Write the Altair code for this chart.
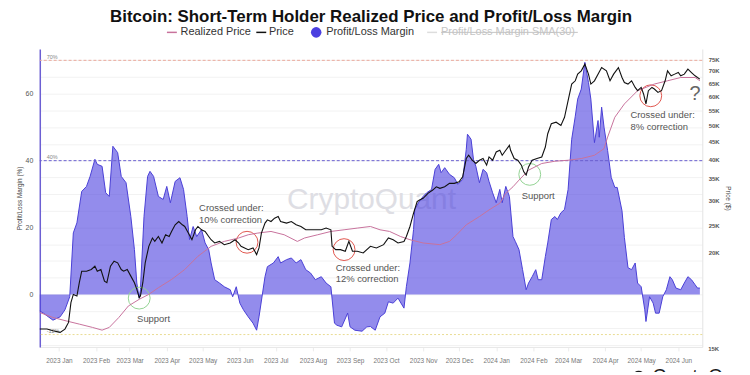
import altair as alt
import pandas as pd

FONT = "Liberation Sans"

# ---------------- data ----------------
margin_dates = [
    "2022-12-16", "2022-12-19", "2022-12-27", "2023-01-02", "2023-01-06", "2023-01-10", "2023-01-13",
    "2023-01-16", "2023-01-20", "2023-01-24", "2023-01-27", "2023-01-31", "2023-02-02", "2023-02-06",
    "2023-02-09", "2023-02-12", "2023-02-15", "2023-02-19", "2023-02-22", "2023-02-26", "2023-03-02",
    "2023-03-05", "2023-03-07", "2023-03-09", "2023-03-10", "2023-03-13", "2023-03-16", "2023-03-18",
    "2023-03-21", "2023-03-25", "2023-03-29", "2023-04-01", "2023-04-04", "2023-04-08", "2023-04-12",
    "2023-04-15", "2023-04-18", "2023-04-20", "2023-04-23", "2023-04-26", "2023-04-30", "2023-05-03",
    "2023-05-06", "2023-05-08", "2023-05-11", "2023-05-15", "2023-05-19", "2023-05-24", "2023-05-26",
    "2023-05-29", "2023-06-01", "2023-06-04", "2023-06-08", "2023-06-12", "2023-06-15", "2023-06-17",
    "2023-06-22", "2023-06-24", "2023-06-29", "2023-07-03", "2023-07-05", "2023-07-10", "2023-07-14",
    "2023-07-18", "2023-07-22", "2023-07-26", "2023-07-30", "2023-08-03", "2023-08-08", "2023-08-12",
    "2023-08-16", "2023-08-19", "2023-08-21", "2023-08-25", "2023-08-30", "2023-09-01", "2023-09-05",
    "2023-09-11", "2023-09-15", "2023-09-18", "2023-09-22", "2023-09-26", "2023-09-30", "2023-10-03",
    "2023-10-07", "2023-10-11", "2023-10-16", "2023-10-18", "2023-10-21", "2023-10-24", "2023-10-25",
    "2023-10-28", "2023-11-01", "2023-11-04", "2023-11-08", "2023-11-11", "2023-11-14", "2023-11-16",
    "2023-11-19", "2023-11-23", "2023-11-27", "2023-11-30", "2023-12-04", "2023-12-07", "2023-12-08",
    "2023-12-11", "2023-12-13", "2023-12-15", "2023-12-18", "2023-12-21", "2023-12-24", "2023-12-26",
    "2023-12-29", "2024-01-01", "2024-01-04", "2024-01-06", "2024-01-09", "2024-01-12", "2024-01-15",
    "2024-01-17", "2024-01-20", "2024-01-23", "2024-01-26", "2024-01-28", "2024-01-31", "2024-02-03",
    "2024-02-05", "2024-02-08", "2024-02-11", "2024-02-13", "2024-02-16", "2024-02-19", "2024-02-21",
    "2024-02-24", "2024-02-27", "2024-03-01", "2024-03-04", "2024-03-07", "2024-03-09", "2024-03-12",
    "2024-03-15", "2024-03-18", "2024-03-20", "2024-03-23", "2024-03-26", "2024-03-27", "2024-03-29",
    "2024-03-31", "2024-04-03", "2024-04-06", "2024-04-09", "2024-04-11", "2024-04-15", "2024-04-17",
    "2024-04-20", "2024-04-23", "2024-04-26", "2024-04-28", "2024-05-01", "2024-05-04", "2024-05-05",
    "2024-05-08", "2024-05-11", "2024-05-13", "2024-05-16", "2024-05-19", "2024-05-22", "2024-05-25",
    "2024-05-27", "2024-05-30", "2024-06-03", "2024-06-06", "2024-06-09", "2024-06-12", "2024-06-15",
    "2024-06-17", "2024-06-19",
]
margin_values = [
    -5.0, -5.6, -7.7, -6.7, -4.6, -0.7, 18.4,
    21.4, 30.8, 32.3, 35.3, 40.4, 38.9, 38.3,
    30.4, 29.3, 44.3, 42.4, 35.3, 33.4, 23.3,
    13.4, 3.4, -1.1, 1.4, 23.3, 35.3, 36.8,
    35.3, 29.3, 28.4, 32.3, 27.4, 33.8, 34.9,
    31.4, 23.3, 16.4, 20.3, 17.3, 19.4, 15.4,
    13.4, 9.4, 4.4, 3.4, 2.3, 1.4, -0.7,
    2.3, -2.6, -4.6, -6.7, -8.6, -10.7, -6.7,
    5.3, 8.3, 9.4, 11.3, 9.4, 10.4, 10.9,
    9.4, 10.4, 7.4, 6.4, 4.4, 5.3, 3.4,
    2.3, -8.6, -9.2, -9.7, -5.6, -9.7, -10.7,
    -11.0, -9.7, -9.6, -10.7, -6.7, -5.6, -2.2,
    -2.6, -1.1, -4.1, 2.3, 9.4, 19.4, 25.4,
    27.4, 29.3, 30.4, 31.4, 37.4, 38.9, 36.4,
    37.9, 35.9, 34.9, 32.9, 34.4, 43.4, 47.9,
    46.4, 40.4, 38.3, 33.4, 37.4, 36.4, 33.8,
    30.4, 27.4, 31.4, 27.4, 32.3, 29.3, 17.3,
    15.8, 13.4, 7.4, 1.4, 3.4, 5.3, 7.4,
    4.4, 4.4, 11.3, 15.4, 22.4, 23.3, 22.4,
    24.4, 25.4, 31.4, 46.4, 53.3, 58.4, 61.4,
    69.4, 63.4, 58.4, 45.4, 52.0, 47.0, 56.0,
    50.0, 43.0, 35.0, 32.0, 32.0, 25.0, 17.0,
    8.0, 7.4, 9.4, 3.4, 2.3, -4.6, -8.1,
    -0.7, -2.6, -5.6, -5.6, -0.7, 1.4, 5.3,
    4.4, 1.9, 1.4, 3.4, 5.3, 4.4, 2.9,
    1.9, 1.9,
]

# Price, in thousands of USD as placed on the right-hand axis
price_dates = [
    "2022-12-16", "2022-12-22", "2022-12-27", "2023-01-02", "2023-01-06", "2023-01-09", "2023-01-11",
    "2023-01-13", "2023-01-16", "2023-01-18", "2023-01-20", "2023-01-24", "2023-01-28", "2023-01-31",
    "2023-02-02", "2023-02-05", "2023-02-08", "2023-02-10", "2023-02-13", "2023-02-16", "2023-02-19",
    "2023-02-22", "2023-02-24", "2023-02-27", "2023-03-02", "2023-03-05", "2023-03-07", "2023-03-09",
    "2023-03-10", "2023-03-12", "2023-03-14", "2023-03-17", "2023-03-20", "2023-03-22", "2023-03-25",
    "2023-03-28", "2023-03-31", "2023-04-03", "2023-04-05", "2023-04-08", "2023-04-11", "2023-04-14",
    "2023-04-16", "2023-04-19", "2023-04-22", "2023-04-25", "2023-04-27", "2023-04-30", "2023-05-03",
    "2023-05-06", "2023-05-08", "2023-05-11", "2023-05-15", "2023-05-19", "2023-05-24", "2023-05-28",
    "2023-05-31", "2023-06-02", "2023-06-05", "2023-06-08", "2023-06-12", "2023-06-15", "2023-06-17",
    "2023-06-19", "2023-06-22", "2023-06-24", "2023-06-27", "2023-06-30", "2023-07-03", "2023-07-05",
    "2023-07-10", "2023-07-14", "2023-07-18", "2023-07-22", "2023-07-26", "2023-07-30", "2023-08-03",
    "2023-08-08", "2023-08-12", "2023-08-16", "2023-08-17", "2023-08-20", "2023-08-24", "2023-08-28",
    "2023-08-31", "2023-09-03", "2023-09-07", "2023-09-12", "2023-09-18", "2023-09-23", "2023-09-29",
    "2023-10-03", "2023-10-07", "2023-10-11", "2023-10-16", "2023-10-18", "2023-10-21", "2023-10-24",
    "2023-10-27", "2023-10-29", "2023-11-01", "2023-11-05", "2023-11-09", "2023-11-12", "2023-11-15",
    "2023-11-19", "2023-11-23", "2023-11-27", "2023-12-01", "2023-12-04", "2023-12-07", "2023-12-09",
    "2023-12-12", "2023-12-15", "2023-12-18", "2023-12-21", "2023-12-24", "2023-12-26", "2023-12-29",
    "2024-01-01", "2024-01-04", "2024-01-06", "2024-01-09", "2024-01-12", "2024-01-13", "2024-01-16",
    "2024-01-19", "2024-01-22", "2024-01-24", "2024-01-26", "2024-01-28", "2024-01-31", "2024-02-04",
    "2024-02-08", "2024-02-11", "2024-02-13", "2024-02-16", "2024-02-20", "2024-02-24", "2024-02-27",
    "2024-03-01", "2024-03-04", "2024-03-07", "2024-03-09", "2024-03-12", "2024-03-15", "2024-03-18",
    "2024-03-20", "2024-03-23", "2024-03-29", "2024-04-02", "2024-04-05", "2024-04-08", "2024-04-12",
    "2024-04-15", "2024-04-17", "2024-04-20", "2024-04-23", "2024-04-26", "2024-04-28", "2024-05-01",
    "2024-05-03", "2024-05-05", "2024-05-07", "2024-05-10", "2024-05-12", "2024-05-15", "2024-05-18",
    "2024-05-21", "2024-05-23", "2024-05-26", "2024-05-29", "2024-06-01", "2024-06-03", "2024-06-06",
    "2024-06-09", "2024-06-12", "2024-06-15", "2024-06-17", "2024-06-19",
]
price_values = [
    9.44, 9.44, 9.25, 9.07, 9.44, 10.21, 12.66,
    13.75, 13.53, 15.38, 17.08, 17.08, 17.34, 17.85,
    17.08, 17.34, 15.61, 15.38, 17.85, 18.63, 18.38,
    17.34, 17.08, 17.34, 16.34, 15.38, 14.44, 13.31,
    13.53, 15.38, 18.38, 21.12, 22.59, 21.98, 22.87,
    21.70, 23.18, 22.87, 23.79, 25.05, 25.69, 25.05,
    24.73, 23.49, 22.28, 24.10, 24.73, 24.10, 23.79,
    22.87, 22.28, 21.70, 21.98, 21.41, 21.70, 22.28,
    21.70, 21.12, 20.84, 20.55, 20.84, 19.72, 20.84,
    23.49, 25.38, 26.02, 25.69, 26.35, 26.67, 25.69,
    25.38, 25.69, 25.05, 24.73, 24.10, 24.10, 24.10,
    24.10, 24.42, 24.10, 21.12, 20.55, 20.55, 20.27,
    21.98, 20.27, 20.27, 20.00, 21.12, 20.84, 21.41,
    22.59, 22.28, 21.70, 21.98, 22.87, 24.73, 27.36,
    29.78, 30.15, 30.52, 31.63, 32.37, 33.13, 32.76,
    33.13, 33.93, 33.93, 34.31, 35.51, 40.22, 41.11,
    39.76, 38.90, 39.76, 40.22, 38.46, 40.65, 39.76,
    42.01, 42.49, 41.11, 42.49, 43.90, 42.49, 40.22,
    39.76, 38.46, 36.75, 35.93, 38.02, 39.76, 40.22,
    40.65, 43.41, 47.35, 50.46, 50.97, 49.92, 52.60,
    58.35, 64.61, 65.90, 68.61, 69.97, 72.82, 68.61,
    64.61, 65.90, 71.36, 69.97, 65.90, 68.61, 71.36,
    67.22, 65.23, 64.61, 65.90, 63.29, 62.04, 63.29,
    60.80, 57.18, 62.04, 63.29, 62.68, 61.40, 62.04,
    65.90, 69.97, 67.92, 68.61, 69.27, 67.92, 68.61,
    70.69, 69.27, 67.92, 67.22, 66.58,
]

realized_dates = [
    "2022-12-16", "2022-12-27", "2023-01-07", "2023-01-18", "2023-01-29", "2023-02-06", "2023-02-12",
    "2023-02-20", "2023-02-28", "2023-03-09", "2023-03-17", "2023-03-25", "2023-04-05", "2023-04-16",
    "2023-04-27", "2023-05-08", "2023-05-19", "2023-05-31", "2023-06-08", "2023-06-16", "2023-06-27",
    "2023-07-08", "2023-07-19", "2023-07-25", "2023-08-05", "2023-08-16", "2023-08-27", "2023-09-07",
    "2023-09-18", "2023-09-26", "2023-10-04", "2023-10-13", "2023-10-21", "2023-11-01", "2023-11-15",
    "2023-11-23", "2023-11-29", "2023-12-07", "2023-12-18", "2023-12-26", "2024-01-04", "2024-01-09",
    "2024-01-15", "2024-01-20", "2024-01-28", "2024-02-08", "2024-02-19", "2024-03-01", "2024-03-12",
    "2024-03-23", "2024-03-31", "2024-04-03", "2024-04-09", "2024-04-17", "2024-04-28", "2024-05-12",
    "2024-05-23", "2024-06-03", "2024-06-15", "2024-06-19",
]
realized_values = [
    11.40, 10.80, 10.39, 10.01, 9.63, 9.32, 9.63,
    10.80, 12.23, 13.09, 13.75, 14.67, 15.85, 17.34,
    19.44, 21.12, 21.98, 22.59, 23.18, 23.49, 23.79,
    23.18, 21.98, 22.59, 23.18, 23.79, 24.10, 24.42,
    24.73, 24.10, 23.79, 22.87, 22.28, 21.70, 21.41,
    21.98, 23.18, 25.05, 26.67, 28.03, 29.44, 31.63,
    33.13, 34.71, 37.18, 38.90, 39.50, 39.76, 40.22,
    41.11, 42.96, 46.33, 52.60, 57.18, 62.04, 64.61,
    65.90, 67.22, 67.22, 65.90,
]

month_ticks = [(2023, m) for m in range(1, 13)] + [(2024, m) for m in range(1, 7)]
price_ticks = [20, 25, 30, 35, 40, 45, 50, 55, 60, 65, 70, 75]
margin_grid = [-15, -10, -5, 0, 5, 10, 15, 20, 25, 30, 35, 40, 45, 50, 55, 60, 65, 70]

circle_dates = ["2023-03-09", "2023-06-07", "2023-08-27", "2024-01-29", "2024-05-09"]
circle_values = [-1.1, 15.6, 13.4, 35.9, 59.4]
circle_colors = ["#93d393", "#e0574f", "#e0574f", "#93d393", "#e0574f"]

note_dates = ["2023-04-28", "2023-04-28", "2023-08-20", "2023-08-20", "2024-04-22", "2024-04-22"]
note_values = [25.8, 22.3, 7.9, 4.5, 53.5, 50.0]
note_texts = ["Crossed under:", "10% correction", "Crossed under:", "12% correction",
              "Crossed under:", "8% correction"]

support_dates = ["2023-03-21", "2024-02-05"]
support_values = [-7.4, 29.5]

TITLE = "Bitcoin: Short-Term Holder Realized Price and Profit/Loss Margin"

# ---------------- frames ----------------
margin_df = pd.DataFrame({"date": margin_dates, "value": margin_values})
price_df = pd.DataFrame({"date": price_dates, "price": price_values})
realized_df = pd.DataFrame({"date": realized_dates, "price": realized_values})
circle_df = pd.DataFrame({"date": circle_dates, "value": circle_values, "c": circle_colors})
note_df = pd.DataFrame({"date": note_dates, "value": note_values, "t": note_texts})
support_df = pd.DataFrame({"date": support_dates, "value": support_values, "t": ["Support", "Support"]})
one = pd.DataFrame({"k": [0]})

# ---------------- scales / axes ----------------
x_scale = alt.Scale(type="utc", domain=[alt.DateTime(year=2022, month=12, date=16, utc=True),
                                        alt.DateTime(year=2024, month=6, date=21, utc=True)])
x_axis = alt.Axis(values=[alt.DateTime(year=y, month=m, date=1, utc=True) for y, m in month_ticks],
                  format="%Y %b", labelFontSize=6.5, labelColor="#777", ticks=True, tickSize=4,
                  tickColor="#ececec", domainColor="#e6e6e6", grid=False, title=None,
                  labelPadding=7, labelOverlap=False)


def X():
    return alt.X("date:T", scale=x_scale, axis=x_axis)


yl_scale = alt.Scale(domain=[-15.7, 73.4], nice=False, zero=False)
yl_axis = alt.Axis(orient="left", values=margin_grid,
                   labelExpr="datum.value % 20 === 0 ? datum.label : ''",
                   labelFontSize=7, labelColor="#555", ticks=False, tickSize=0, labelPadding=7,
                   domainColor="#6c5fd3", domainWidth=1.5, gridColor="#f2f2f2",
                   title="Profit/Loss Margin (%)", titleFontSize=6.5, titleFontWeight="normal",
                   titleColor="#444", titlePadding=3, labelOverlap=False)


def YL(field="value:Q"):
    return alt.Y(field, scale=yl_scale, axis=yl_axis)


def YLd(v):
    return alt.Y(datum=v, scale=yl_scale, axis=yl_axis)


yr_scale = alt.Scale(type="symlog", constant=13, domain=[7.5, 79.7], nice=False, zero=False)
yr_axis = alt.Axis(orient="right", values=price_ticks, labelExpr="datum.value + 'K'",
                   labelFontSize=6, labelFontWeight="bold", labelColor="#555", ticks=False,
                   tickSize=0, grid=False, domainColor="#e3e3e3", labelPadding=6,
                   title="Price ($)", titleFontSize=6.5, titleFontWeight="normal",
                   titleColor="#444", titlePadding=5, labelOverlap=False)


def YR():
    return alt.Y("price:Q", scale=yr_scale, axis=yr_axis)


# ---------------- left (margin) group ----------------
watermark = alt.Chart(one).mark_text(fontSize=30, color="#dedee4", align="center",
                                     baseline="middle").encode(
    x=alt.value(334), y=alt.value(152), text=alt.value("CryptoQuant"))

area = alt.Chart(margin_df).mark_area(color="#4b3fe0", opacity=0.6).encode(
    x=X(), y=YL(), y2=alt.datum(0))
area_line = alt.Chart(margin_df).mark_line(color="#4a3fd6", strokeWidth=1).encode(x=X(), y=YL())

rule70 = alt.Chart(one).mark_rule(color="#eba99b", strokeDash=[3, 2], strokeWidth=1).encode(y=YLd(70))
rule40 = alt.Chart(one).mark_rule(color="#6a5fd0", strokeDash=[3, 2], strokeWidth=1).encode(y=YLd(40))
rule12 = alt.Chart(one).mark_rule(color="#e9dc92", strokeDash=[2, 2], strokeWidth=1).encode(y=YLd(-12))


def ref_label(v, t):
    return alt.Chart(one).mark_text(fontSize=5.5, color="#888", align="left", baseline="bottom",
                                    dy=-0.5).encode(x=alt.value(7), y=YLd(v), text=alt.value(t))


circles = alt.Chart(circle_df).mark_point(shape="circle", size=484, filled=False, strokeWidth=1,
                                          opacity=1).encode(
    x=X(), y=YL(), color=alt.Color("c:N", scale=None))

notes = alt.Chart(note_df).mark_text(fontSize=9.5, color="#555", align="left", baseline="middle").encode(
    x=X(), y=YL(), text="t:N")
supports = alt.Chart(support_df).mark_text(fontSize=9.5, color="#555", align="center",
                                           baseline="middle").encode(x=X(), y=YL(), text="t:N")
qmark = alt.Chart(pd.DataFrame({"date": ["2024-06-15"], "value": [59.9], "t": ["?"]})).mark_text(
    fontSize=20, color="#666", align="center", baseline="middle").encode(x=X(), y=YL(), text="t:N")

left = alt.layer(watermark, area, area_line, rule70, rule40, rule12,
                 ref_label(70, "70%"), ref_label(40, "40%"), ref_label(-12, "-12%"),
                 circles, notes, supports, qmark)

# ---------------- right (price) group ----------------
realized = alt.Chart(realized_df).mark_line(color="#c8729c", strokeWidth=1).encode(x=X(), y=YR())
price = alt.Chart(price_df).mark_line(color="#111111", strokeWidth=1.1).encode(x=X(), y=YR())
right = alt.layer(realized, price)

# ---------------- title, legend & extras (pixel placed) ----------------
title = alt.Chart(one).mark_text(fontSize=17, fontWeight="bold", color="#111", align="center",
                                 baseline="top").encode(
    x=alt.value(333.5), y=alt.value(-40), text=alt.value(TITLE))

LY = -16.7


def leg_rule(x1, x2, color, w=1.5):
    return alt.Chart(one).mark_rule(color=color, strokeWidth=w).encode(
        x=alt.value(x1), x2=alt.value(x2), y=alt.value(LY))


def leg_text(x, t, color="#333"):
    return alt.Chart(one).mark_text(fontSize=11, color=color, align="left", baseline="middle").encode(
        x=alt.value(x), y=alt.value(LY), text=alt.value(t))


legend = [
    leg_rule(128, 138, "#c8729c"), leg_text(141.7, "Realized Price"),
    leg_rule(218, 228, "#111111"), leg_text(230.7, "Price"),
    alt.Chart(one).mark_point(shape="circle", size=112, filled=True, color="#4b3fe0", opacity=1).encode(
        x=alt.value(278.3), y=alt.value(LY)),
    leg_text(288.3, "Profit/Loss Margin"),
    leg_rule(390, 400, "#dddddd"), leg_text(404, "Profit/Loss Margin SMA(30)", "#c4c4c4"),
    leg_rule(404, 541.7, "#c4c4c4", 1),
]

extras = [
    alt.Chart(one).mark_text(fontSize=6, fontWeight="bold", color="#555", align="left",
                             baseline="middle").encode(x=alt.value(673), y=alt.value(302),
                                                       text=alt.value("15K")),
    alt.Chart(one).mark_text(fontSize=19, color="#1a1a1a", align="left", baseline="alphabetic").encode(
        x=alt.value(617), y=alt.value(335), text=alt.value("CryptoQuant")),
    alt.Chart(one).mark_point(shape="circle", size=150, filled=True, color="#1a1a1a", opacity=1).encode(
        x=alt.value(603), y=alt.value(330)),
]

chart = alt.layer(left, right, title, *legend, *extras).resolve_scale(y="independent").properties(
    width=667, height=300,
    autosize=alt.AutoSizeParams(type="none"),
    padding={"left": 32, "top": 40, "right": 40, "bottom": 24},
).configure(font=FONT).configure_view(stroke=None)

chart.save("out.html", embed_options={"renderer": "svg", "actions": False})
